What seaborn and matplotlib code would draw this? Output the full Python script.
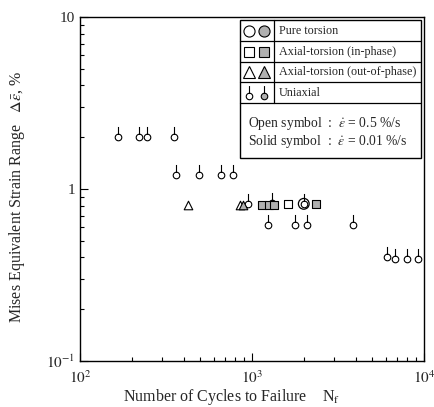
import numpy as np
import pandas as pd
import matplotlib
matplotlib.use("Agg")
import matplotlib.pyplot as plt
from matplotlib.path import Path
from matplotlib.lines import Line2D
from matplotlib.patches import Rectangle
import seaborn as sns

# -------------------------
# data
# -------------------------
uni_n = [166, 220, 245, 352, 361, 491, 660, 776, 950, 1300, 2000,
         1235, 1780, 2080, 3860, 6100, 6760, 7950, 9230]
uni_e = [2.0, 2.0, 2.0, 2.0, 1.21, 1.21, 1.21, 1.21, 0.82, 0.83, 0.82,
         0.62, 0.62, 0.62, 0.62, 0.40, 0.39, 0.39, 0.39]

tor_open_n = [2000]
tor_open_e = [0.82]

ip_open_n = [1620]
ip_open_e = [0.82]
ip_solid_n = [1150, 1250, 1350, 2355]
ip_solid_e = [0.81, 0.81, 0.81, 0.82]

op_open_n = [425, 850]
op_open_e = [0.81, 0.81]
op_solid_n = [887]
op_solid_e = [0.81]

legend_rows = ["Pure torsion", "Axial-torsion (in-phase)",
               "Axial-torsion (out-of-phase)", "Uniaxial"]
rate_lines = [r"Open symbol  :  $\dot{\varepsilon}$ = 0.5 %/s",
              r"Solid symbol  :  $\dot{\varepsilon}$ = 0.01 %/s"]

sns.set_style("ticks")
plt.rcParams["font.family"] = ["Liberation Serif", "DejaVu Serif"]
plt.rcParams["mathtext.fontset"] = "stix"

W, H = 435, 407
fig = plt.figure(figsize=(W / 100, H / 100), dpi=100)
ax = fig.add_axes([80 / W, 1 - 361 / H, 344 / W, 344 / H])

# uniaxial marker: circle with a short stem on top
circ = Path.unit_circle()
stem = Path([[0, 1], [0, 3.2]], [Path.MOVETO, Path.LINETO])
uni_marker = Path.make_compound_path(circ, stem)

SOLID = "#b0b0b0"

sns.scatterplot(x=uni_n, y=uni_e, marker=uni_marker, s=230,
                facecolor="white", edgecolor="black", linewidth=0.8, ax=ax, zorder=3)
sns.scatterplot(x=tor_open_n, y=tor_open_e, marker="o", s=60,
                facecolor="none", edgecolor="black", linewidth=0.9, ax=ax, zorder=4)
sns.scatterplot(x=ip_open_n, y=ip_open_e, marker="s", s=28,
                facecolor="white", edgecolor="black", linewidth=0.8, ax=ax, zorder=3)
sns.scatterplot(x=ip_solid_n, y=ip_solid_e, marker="s", s=28,
                facecolor=SOLID, edgecolor="black", linewidth=0.8, ax=ax, zorder=3)
sns.scatterplot(x=op_open_n, y=op_open_e, marker="^", s=38,
                facecolor="white", edgecolor="black", linewidth=0.8, ax=ax, zorder=3)
sns.scatterplot(x=op_solid_n, y=op_solid_e, marker="^", s=38,
                facecolor=SOLID, edgecolor="black", linewidth=0.8, ax=ax, zorder=3)

ax.set_xscale("log")
ax.set_yscale("log")
ax.set_xlim(100, 10000)
ax.set_ylim(0.1, 10)
ax.set_xticks([100, 1000, 10000])
ax.set_xticklabels([r"$10^2$", r"$10^3$", r"$10^4$"])
ax.set_yticks([0.1, 1, 10])
ax.set_yticklabels([r"$10^{-1}$", "1", "10"])
ax.tick_params(which="both", direction="in", labelsize=11, width=0.8, color="black")
ax.tick_params(which="major", length=6)
ax.tick_params(which="minor", length=3)
ax.tick_params(axis="x", pad=6)
for sp in ax.spines.values():
    sp.set_linewidth(1.0)
    sp.set_color("black")

ax.set_xlabel(r"Number of Cycles to Failure    N$_{\mathrm{f}}$", fontsize=11.5)
ax.set_ylabel(r"Mises Equivalent Strain Range   $\Delta\bar{\varepsilon}$, %",
              fontsize=11.5)
ax.xaxis.set_label_coords(0.44, -0.075)
ax.yaxis.set_label_coords(-0.155, 0.477)

# -------------------------
# boxed legend (drawn in figure pixels)
# -------------------------
def fx(x):
    return x / W

def fy(y):
    return 1 - y / H

tf = fig.transFigure
L, R, T, B = 240, 421, 20, 158
DIV = 274
seps = [41, 62, 82, 103]
fig.add_artist(Rectangle((fx(L), fy(B)), fx(R) - fx(L), fy(T) - fy(B), transform=tf,
                         facecolor="white", edgecolor="black", linewidth=1.0, zorder=5))
for y in seps:
    fig.add_artist(Line2D([fx(L), fx(R)], [fy(y), fy(y)], transform=tf,
                          color="black", linewidth=0.9, zorder=6))
fig.add_artist(Line2D([fx(DIV), fx(DIV)], [fy(T), fy(seps[-1])], transform=tf,
                      color="black", linewidth=0.9, zorder=6))

row_y = [31, 52, 72, 93]
leg_markers = ["o", "s", "^", uni_marker]
leg_sizes = [8, 6.5, 8, 15]
for name, yy, mk, ms in zip(legend_rows, row_y, leg_markers, leg_sizes):
    off = 3 if mk is uni_marker else 0
    for xx, fc in [(249, "white"), (264, SOLID)]:
        fig.add_artist(Line2D([fx(xx)], [fy(yy + off)], transform=tf, marker=mk,
                              markersize=ms, markerfacecolor=fc, markeredgecolor="black",
                              markeredgewidth=0.8, linestyle="none", zorder=7))
    fig.text(fx(279), fy(yy), name, fontsize=8.7, va="center", ha="left", zorder=7)

fig.text(fx(248), fy(123), rate_lines[0], fontsize=9.8, va="center", ha="left", zorder=7)
fig.text(fx(248), fy(142), rate_lines[1], fontsize=9.8, va="center", ha="left", zorder=7)

fig.savefig("out.png", dpi=100, facecolor="white")
